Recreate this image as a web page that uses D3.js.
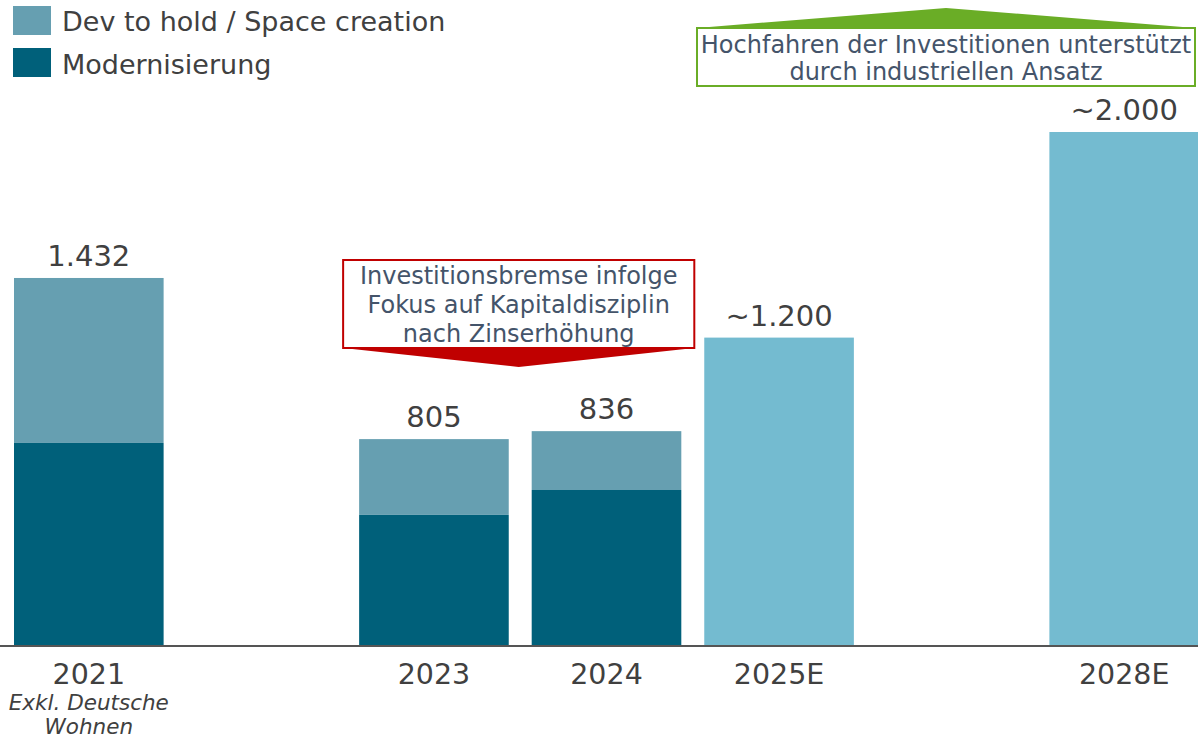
<!DOCTYPE html>
<html><head><meta charset="utf-8">
<script src="https://cdn.jsdelivr.net/npm/d3@7"></script>
<style>body{margin:0;background:#fff}svg{display:block}</style>
</head><body>
<svg id="c" width="1198" height="738"></svg>
<script>
const slots = ["2021","2022","2023","2024","2025E","2026E","2028E"];
const categories = ["2021","2023","2024","2025E","2028E"];
const totals = [1432, 805, 836, 1200, 2000];
const totalLabels = ["1.432","805","836","~1.200","~2.000"];
const modernisierung = [790, 510, 607, null, null];
const devToHold = [642, 295, 229, null, null];
const estimated = [false, false, false, true, true];
const legendLabels = ["Dev to hold / Space creation","Modernisierung"];
const noteRed = ["Investitionsbremse infolge","Fokus auf Kapitaldisziplin","nach Zinserhöhung"];
const noteGreen = ["Hochfahren der Investitionen unterstützt","durch industriellen Ansatz"];
const subLabel2021 = ["Exkl. Deutsche","Wohnen"];

const colDev = "#669fb1", colMod = "#00607a", colEst = "#74bbd0", txt = "#404040", noteTxt = "#44546a";
const font = "DejaVu Sans, Verdana, sans-serif";
const svg = d3.select("#c");
const x = d3.scaleBand().domain(slots).range([14, 1199]).paddingInner(0.133).paddingOuter(0);
const y = d3.scaleLinear().domain([0, 2000]).range([646, 132]);

const data = categories.map((c,i)=>({c, total:totals[i], mod:modernisierung[i], dev:devToHold[i], est:estimated[i], lab:totalLabels[i]}));

const g = svg.append("g");
data.forEach(d=>{
  if (d.est) {
    g.append("rect").attr("x", x(d.c)).attr("width", x.bandwidth()).attr("y", y(d.total)).attr("height", y(0)-y(d.total)).attr("fill", colEst);
  } else {
    g.append("rect").attr("x", x(d.c)).attr("width", x.bandwidth()).attr("y", y(d.mod)).attr("height", y(0)-y(d.mod)).attr("fill", colMod);
    g.append("rect").attr("x", x(d.c)).attr("width", x.bandwidth()).attr("y", y(d.total)).attr("height", y(d.mod)-y(d.total)).attr("fill", colDev);
  }
  g.append("text").attr("x", x(d.c)+x.bandwidth()/2).attr("y", y(d.total)-12).attr("text-anchor","middle")
    .attr("font-family", font).attr("font-size", 29).attr("fill", txt).text(d.lab);
});

// axis
const ax = svg.append("g").attr("transform","translate(0,646)")
  .call(d3.axisBottom(x).tickValues(categories).tickSize(0).tickPadding(18));
ax.select(".domain").remove();
ax.selectAll("text").attr("font-family", font).attr("font-size", 28.5).attr("fill", txt).attr("dy","0.71em");
svg.append("line").attr("x1",0).attr("x2",1198).attr("y1",646).attr("y2",646).attr("stroke","#555").attr("stroke-width",2);
subLabel2021.forEach((t,i)=>svg.append("text").attr("x", x("2021")+x.bandwidth()/2).attr("y", 710+i*24)
  .attr("text-anchor","middle").attr("font-family",font).attr("font-style","italic").attr("font-size",21.5).attr("fill",txt).text(t));

// legend
legendLabels.forEach((t,i)=>{
  svg.append("rect").attr("x",13).attr("y",6+i*42).attr("width",38).attr("height",29).attr("fill", i===0?colDev:colMod);
  svg.append("text").attr("x",62).attr("y",31+i*43).attr("font-family",font).attr("font-size",27).attr("fill",txt).text(t);
});

// red note
const rx0 = x("2023") - 16, rx1 = x("2024") + x.bandwidth() + 13, ry0 = 260, ry1 = 348;
svg.append("path").attr("d", `M${rx0},${ry1}L${rx1},${ry1}L${(rx0+rx1)/2},367Z`).attr("fill","#c00000");
svg.append("rect").attr("x",rx0).attr("y",ry0).attr("width",rx1-rx0).attr("height",ry1-ry0).attr("fill","#fff").attr("stroke","#c00000").attr("stroke-width",2);
noteRed.forEach((t,i)=>svg.append("text").attr("x",(rx0+rx1)/2).attr("y",284+i*29).attr("text-anchor","middle")
  .attr("font-family",font).attr("font-size",24).attr("fill",noteTxt).text(t));

// green note
const gx0 = 697, gx1 = 1195, gy0 = 28, gy1 = 86;
svg.append("path").attr("d", `M${gx0},${gy0}L${gx1},${gy0}L946,8Z`).attr("fill","#6aad26");
svg.append("rect").attr("x",gx0).attr("y",gy0).attr("width",gx1-gx0).attr("height",gy1-gy0).attr("fill","#fff").attr("stroke","#6aad26").attr("stroke-width",2);
noteGreen.forEach((t,i)=>svg.append("text").attr("x",(gx0+gx1)/2).attr("y",53+i*27).attr("text-anchor","middle")
  .attr("font-family",font).attr("font-size",24).attr("fill",noteTxt).text(t));
</script>
</body></html>
